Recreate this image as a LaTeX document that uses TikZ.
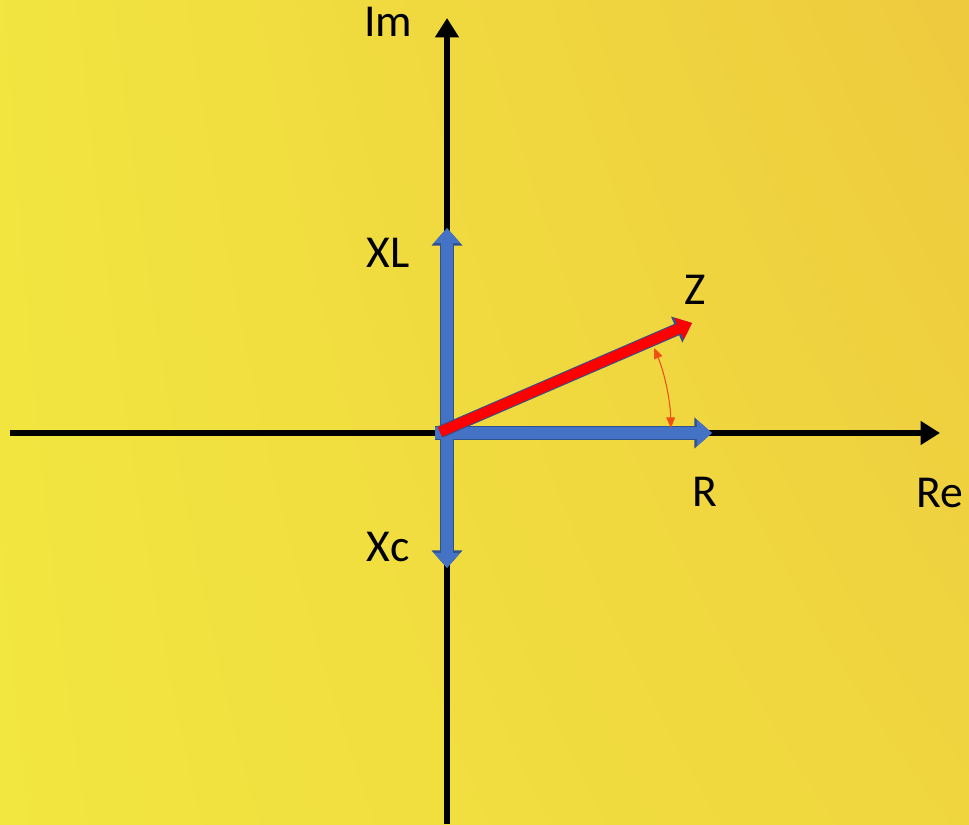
\documentclass[tikz,border=0pt]{standalone}
\usepackage{fontspec}
\setmainfont{Carlito}
\usepackage{tikz}
\usetikzlibrary{arrows.meta, shadings}
\definecolor{bgleft}{RGB}{242,230,64}
\definecolor{bgright}{RGB}{238,202,62}
\definecolor{phasor}{RGB}{68,114,196}
\definecolor{phasoredge}{RGB}{47,82,143}
\definecolor{imp}{RGB}{255,0,0}
\definecolor{anglecol}{RGB}{240,80,20}

\begin{document}
\begin{tikzpicture}[
  axis/.style={line width=3.3pt, -{Triangle[width=13pt,length=11pt]}},
  vecedge/.style={line width=7.6pt, color=phasoredge,
                  -{Triangle[width=17pt,length=10pt]}},
  vecfill/.style={line width=6.4pt, color=phasor,
                  -{Triangle[width=14.5pt,length=8.6pt]}},
  zedge/.style={line width=7pt, color=phasoredge,
                -{Triangle[width=15.5pt,length=9.5pt]}},
  zfill/.style={line width=5.8pt, color=imp,
                -{Triangle[width=13pt,length=8pt]}},
  anglemark/.style={color=anglecol, line width=0.6pt,
                {Triangle[width=5pt,length=6pt]}-{Triangle[width=5pt,length=6pt]}},
  axislabel/.style={font=\fontsize{26}{28}\selectfont}
]

% Background
\shade[upper left=bgleft!95!bgright, upper right=bgright,
       lower left=bgleft, lower right=bgright!60!bgleft]
  (0,0) rectangle (19.38,16.48);
\useasboundingbox (0,0) rectangle (19.38,16.48);

% Points
\coordinate (O) at (8.94,7.82);
\coordinate (west) at (0.2,7.82);
\coordinate (east) at (18.8,7.82);
\coordinate (south) at (8.94,0);
\coordinate (north) at (8.94,16.12);
\coordinate (xlstart) at (8.94,7.74);
\coordinate (xltip) at (8.94,11.92);
\coordinate (xcstart) at (8.94,7.9);
\coordinate (xctip) at (8.94,5.12);
\coordinate (rstart) at (8.7,7.82);
\coordinate (rtip) at (14.24,7.82);
\coordinate (zstart) at (8.8,7.84);
\coordinate (ztip) at (13.84,10.02);

% Axes
\draw[axis] (west) -- (east);
\draw[axis] (south) -- (north);

% Reactances and resistance
\draw[vecedge] (xlstart) -- (xltip);
\draw[vecedge] (xcstart) -- (xctip);
\draw[vecedge] (rstart) -- (rtip);
\draw[vecfill] (xlstart) -- (xltip);
\draw[vecfill] (xcstart) -- (xctip);
\draw[vecfill] (rstart) -- (rtip);

% Impedance
\draw[zedge] (zstart) -- (ztip);
\draw[zfill] (zstart) -- (ztip);

% Phase angle
\draw[anglemark] ([shift={(1.3:4.48)}]O) arc[start angle=1.3, end angle=22.3, radius=4.48];

% Labels
\node[axislabel] (im) at (7.76,16.04) {Im};
\node[axislabel] (re) at (18.8,6.62) {Re};
\node[axislabel] (xl) at (7.76,11.42) {XL};
\node[axislabel] (xc) at (7.76,5.54) {Xc};
\node[axislabel] (z) at (13.9,10.68) {Z};
\node[axislabel] (r) at (14.1,6.64) {R};

\end{tikzpicture}
\end{document}
